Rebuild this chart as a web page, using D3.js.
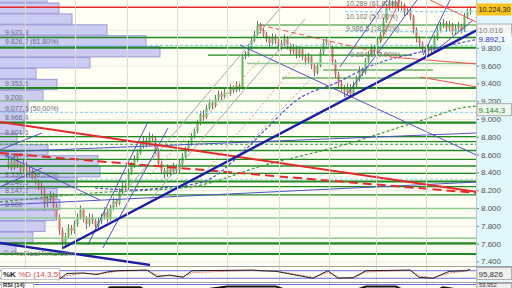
<!DOCTYPE html>
<html>
<head>
<meta charset="utf-8">
<script src="https://cdn.jsdelivr.net/npm/d3@7"></script>
<style>
  html, body { margin: 0; padding: 0; background: #fff; }
  svg { display: block; font-family: "Liberation Sans", Arial, sans-serif; }
</style>
</head>
<body>
<div id="chart"></div>
<script>
// daily candles, open = previous close
const firstOpen = 8480;
const closes = [
  8520,8450,8560,8480,8420,8500,8380,8420,8350,8300,
  8250,8200,8050,8100,8150,8020,7900,7750,7600,7680,
  7780,7740,7820,7900,7980,7880,7820,7900,7860,7800,
  7850,7900,7960,7880,8000,8080,8050,8180,8250,8220,
  8400,8480,8550,8620,8700,8760,8720,8800,8780,8650,
  8500,8420,8380,8450,8400,8470,8420,8500,8580,8650,
  8720,8800,8860,8950,9050,9020,9120,9180,9150,9230,
  9280,9250,9300,9280,9350,9320,9380,9340,9700,9720,
  9800,9880,9950,10050,10000,9950,9900,9850,9920,9880,
  9800,9850,9900,9820,9760,9800,9720,9780,9700,9650,
  9700,9600,9520,9600,9750,9850,9880,9800,9650,9500,
  9400,9350,9300,9360,9280,9380,9450,9550,9520,9650,
  9720,9800,9760,9880,9950,10100,10250,10300,10280,10320,
  10250,10280,10200,10220,10150,10000,9900,9850,9780,9750,
  9800,9760,9900,10000,10050,10080,10020,10060,9980,10020,
  10050,10000,10150,10200,10224
];
const highs = [
  8570,8550,8600,8590,8510,8540,8520,8460,8440,8390,
  8320,8290,8230,8140,8190,8170,8050,7930,7780,7720,
  7820,7810,7860,7940,8030,8000,7910,7940,7930,7880,
  7890,7940,8010,7990,8040,8120,8110,8220,8290,8280,
  8440,8520,8590,8660,8740,8800,8790,8850,8830,8800,
  8670,8530,8450,8490,8480,8510,8490,8540,8620,8690,
  8760,8840,8900,8990,9090,9100,9160,9220,9210,9270,
  9320,9310,9340,9330,9390,9380,9420,9400,9720,9760,
  9840,9920,9990,10100,10080,10030,9980,9930,9960,9950,
  9900,9890,9950,9930,9850,9840,9830,9820,9800,9730,
  9740,9720,9630,9640,9790,9890,9920,9900,9820,9670,
  9530,9430,9380,9400,9390,9420,9490,9590,9580,9690,
  9760,9840,9830,9920,9990,10140,10290,10340,10330,10360,
  10350,10320,10300,10260,10240,10170,10030,9930,9870,9810,
  9840,9830,9940,10040,10090,10120,10100,10100,10080,10060,
  10090,10070,10190,10240,10260
];
const lows = [
  8440,8420,8430,8450,8380,8400,8340,8350,8310,8260,
  8200,8140,7970,8010,8060,7980,7860,7700,7530,7570,
  7650,7700,7710,7790,7870,7840,7760,7790,7820,7750,
  7770,7820,7870,7840,7860,7970,8010,8030,8150,8180,
  8200,8370,8450,8520,8600,8670,8680,8700,8740,8610,
  8460,8380,8330,8350,8360,8380,8390,8400,8480,8560,
  8630,8700,8780,8840,8930,8980,9000,9100,9110,9130,
  9200,9210,9230,9240,9260,9290,9300,9310,9330,9670,
  9700,9780,9860,9930,9960,9910,9860,9810,9820,9840,
  9760,9770,9820,9780,9720,9730,9680,9690,9660,9610,
  9620,9560,9480,9500,9580,9720,9820,9760,9610,9460,
  9360,9310,9250,9270,9240,9260,9350,9420,9480,9500,
  9620,9700,9720,9740,9850,9930,10080,10220,10240,10250,
  10210,10220,10160,10170,10110,9960,9860,9810,9740,9700,
  9720,9720,9740,9880,9970,10020,9980,9990,9940,9950,
  9990,9960,9980,10120,10170
];

// volume profile (top bin first)
const profileTop = 10425;
const profileStep = 122.5;
const profileVolumes = [47,59,72,107,146,160,90,36,57,43,28,25,24,17,48,98,100,77,57,60,55,45,33,16];
const profilePrices = [9923.3, 9826.2, 9353.6, 9200, 9077.5, 8966.4, 8801.6, 8547.4, 8330.1, 8240.5, 8147.2, 8000];
const profileLabels = ["9.923,3", "9.826,2 (61,80%)", "9.353,6", "9.200", "9.077,5 (50,00%)", "8.966,4",
  "8.801,6", "8.547,4", "8.330,1 (38,20%)", "8.240,5", "8.147,2", "8.000"];

// horizontal levels
const strongLevels = [9800, 9348, 8958, 8298, 7602, 7484];
const supportLevels = [9915, 8801, 8745, 8646, 8547, 8472, 8390, 8240, 8147];
const lightLevels = [9202, 7995, 7888, 7660];
const dashedGreenLevels = [8716];
const fibLevels = [9826, 9075, 8323];
const topRedLevels = [10254];
// [fromIndex, toIndex, price]
const partialLevels = [[83.5, 156.5, 10055], [66.8, 134.8, 9718], [105.2, 141.8, 9550], [91.5, 156.5, 9460]];
const partialLightLevels = [[79.8, 156.5, 9623]];
const partialFibLevels = [[112.5, 156.5, 10205], [112.5, 156.5, 9980]];
const fibTexts = [["10.289 (61,80%)", 10289], ["10.102 (50,00%)", 10140], ["9.986,5 (38,20%)", 10010], ["- 9.684,0 (0,00%)", 9720]];

// trendlines [i1, p1, i2, p2]
const redThick = [[-2.5, 8966, 156.5, 8180]];
const redThickDashed = [[-2.5, 8618, 156.5, 8169]];
const redThin = [[140.8, 10336, 156.5, 10085], [127.5, 9696, 156.5, 9617], [137.5, 9471, 156.5, 9359], [124.2, 9853, 130.8, 10336]];
const redThinDashed = [[84.2, 10055, 127.5, 9718]];
const blueThick = [[18.5, 7551, 156.5, 9999], [-2.5, 7608, 47.5, 7361]];
const blueThin = [
  [77.5, 9831, 156.5, 8592], [112.5, 9247, 136.5, 10336], [110.8, 9584, 126.5, 10336],
  [138.5, 9718, 147.5, 10336], [141.8, 9741, 155.2, 10111], [26.8, 7585, 46.8, 8966],
  [31.8, 7551, 53.5, 8899], [-0.8, 8596, 30.8, 8090], [-2.5, 8236, 11.5, 8450],
  [-2.5, 8652, 11.5, 8843], [-2.5, 8629, 156.5, 8843], [-2.5, 8034, 156.5, 8292]
];
const grayLines = [[32.5, 7922, 91.5, 10269], [47.5, 8090, 99.2, 10123]];
const grayDashed = [[75.2, 8540, 100.8, 9438]];
const pinkDashed = [[47.5, 8371, 84.2, 9662], [60.8, 8203, 97.5, 9662]];

// moving averages read at a few points
const ma50Index = [29.2, 41.8, 54.2, 65.2, 77.5, 86.5, 96.5, 110.2, 121.8, 137.5, 156.2];
const ma50Values = [8225, 8203, 8236, 8293, 8596, 8899, 9213, 9415, 9606, 9752, 9892];
const ma200Index = [-2.5, 28.5, 60.8, 85.8, 110.8, 138.5, 153.2, 156.2];
const ma200Values = [8068, 8169, 8236, 8483, 8697, 8989, 9135, 9144];

// oscillators
const stochIndex = [16.8, 19.8, 25.2, 29.8, 33.2, 36.5, 46.5, 49.8, 54.2, 58.5, 61.5, 81.8, 84.2, 89.5, 101.8, 106.8, 110.2, 115.2, 119.5, 134.2, 137.2, 141.8, 147.2, 152.8, 154.2];
const stochK = [5, 58, 62, 50, 70, 80, 85, 33, 45, 28, 80, 85, 80, 75, 20, 80, 20, 25, 80, 85, 27, 20, 75, 80, 90];
const stochD = [8, 40, 60, 55, 62, 76, 84, 45, 40, 32, 65, 84, 82, 78, 28, 65, 30, 22, 70, 84, 40, 22, 62, 78, 85];
const rsiIndex = [17.5, 30.8, 34.2, 44.2, 50.8, 60.8, 73.2, 89.5, 97.5, 104.2, 119.5, 129.5, 137.5, 145.2, 154.2];
const rsiValues = [28, 55, 66, 66, 50, 60, 67, 67, 55, 45, 67, 67, 50, 66, 60];

const priceTicks = [7400, 7600, 7800, 8000, 8200, 8400, 8600, 8800, 9000, 9200, 9400, 9600, 9800];
const monthIndex = [5.8, 22.5, 39.8, 56.5, 73.2, 90.5, 107.2, 122.8, 139.5];

(function () {
  const WIDTH = 512, HEIGHT = 288;
  const PLOT_RIGHT = 476;
  const MAIN_BOTTOM = 266;
  const DARK_GREEN = "#1f8a1f";
  const LIGHT_GREEN = "#8fcb8f";
  const FIB_BLUE = "#8fd3f5";
  const NAVY = "#1c1ca8";
  const THIN_BLUE = "#5050c8";
  const RED = "#e8282a";

  const svg = d3.select("#chart").append("svg")
    .attr("width", WIDTH).attr("height", HEIGHT);

  const x = d3.scaleLinear().domain([-2.5, 156.5]).range([0, 477]);
  const y = d3.scaleLinear().domain([7349, 10336]).range([MAIN_BOTTOM, 0]);
  const stochY = d3.scaleLinear().domain([0, 100]).range([280.8, 268.2]);
  const rsiY = d3.scaleLinear().domain([0, 100]).range([333, 263.7]);
  const volX = d3.scaleLinear().domain([0, 160]).range([0, 160]);

  svg.append("defs").append("clipPath").attr("id", "plotClip")
    .append("rect").attr("x", 0).attr("y", 0).attr("width", PLOT_RIGHT).attr("height", MAIN_BOTTOM);

  // backgrounds
  svg.append("rect").attr("width", PLOT_RIGHT).attr("height", HEIGHT).attr("fill", "#fffff3");
  svg.append("rect").attr("x", PLOT_RIGHT).attr("width", WIDTH - PLOT_RIGHT).attr("height", HEIGHT).attr("fill", "#e1f7fc");

  const plot = svg.append("g").attr("clip-path", "url(#plotClip)");

  // grid
  plot.append("g").selectAll("line").data(priceTicks.concat([10000])).enter().append("line")
    .attr("x1", 0).attr("x2", PLOT_RIGHT)
    .attr("y1", d => y(d) + 0.5).attr("y2", d => y(d) + 0.5)
    .attr("stroke", "#e9e9dc").attr("stroke-width", 1);
  svg.append("g").selectAll("line").data(monthIndex).enter().append("line")
    .attr("x1", d => x(d) + 0.5).attr("x2", d => x(d) + 0.5)
    .attr("y1", 0).attr("y2", HEIGHT)
    .attr("stroke", "#dcdcd0").attr("stroke-width", 1);

  // volume profile
  plot.append("g").selectAll("rect").data(profileVolumes).enter().append("rect")
    .attr("x", -1)
    .attr("y", (d, i) => y(profileTop - i * profileStep))
    .attr("width", d => volX(d) + 1)
    .attr("height", y(profileTop - profileStep) - y(profileTop) - 0.6)
    .attr("fill", "#ccccf2").attr("stroke", "#9a9ad6").attr("stroke-width", 1);

  plot.append("g").selectAll("text").data(profileLabels).enter().append("text")
    .attr("x", 5).attr("y", (d, i) => y(profilePrices[i]) - 1.5)
    .attr("font-size", 7).attr("fill", "#6a6a80")
    .text(d => d);

  // candles
  const candles = closes.map((c, i) => ({
    i: i, open: i === 0 ? firstOpen : closes[i - 1], close: c, high: highs[i], low: lows[i]
  }));
  const candleG = plot.append("g");
  candleG.selectAll("line").data(candles).enter().append("line")
    .attr("x1", d => Math.round(x(d.i)) + 0.5).attr("x2", d => Math.round(x(d.i)) + 0.5)
    .attr("y1", d => y(d.high)).attr("y2", d => y(d.low))
    .attr("stroke", "#707070").attr("stroke-width", 1);
  candleG.selectAll("rect").data(candles).enter().append("rect")
    .attr("x", d => Math.round(x(d.i)) - 0.5)
    .attr("width", 2)
    .attr("y", d => y(Math.max(d.open, d.close)))
    .attr("height", d => Math.max(1, Math.abs(y(d.open) - y(d.close))))
    .attr("fill", d => d.close >= d.open ? "#5cb85c" : "#e06a6a");

  // horizontal levels
  const full = prices => prices.map(p => [-2.5, p, 156.5, p]);
  const part = rows => rows.map(r => [r[0], r[2], r[1], r[2]]);

  function drawSegments(segs, color, width, dash) {
    plot.append("g").selectAll("line").data(segs).enter().append("line")
      .attr("x1", d => x(d[0])).attr("y1", d => y(d[1]))
      .attr("x2", d => x(d[2])).attr("y2", d => y(d[3]))
      .attr("stroke", color).attr("stroke-width", width)
      .attr("stroke-dasharray", dash || null);
  }

  drawSegments(full(lightLevels), LIGHT_GREEN, 1.6);
  drawSegments(part(partialLightLevels), LIGHT_GREEN, 1.6);
  drawSegments(full(fibLevels), FIB_BLUE, 1.2, "3,2");
  drawSegments(part(partialFibLevels), FIB_BLUE, 1.2, "3,2");
  drawSegments(full(supportLevels), DARK_GREEN, 1.3);
  drawSegments(part(partialLevels), DARK_GREEN, 1.2);
  drawSegments(full(strongLevels), DARK_GREEN, 2.2);
  drawSegments(full(dashedGreenLevels), "#3c9a3c", 1.2, "3,2");
  drawSegments(full(topRedLevels), RED, 1.6);

  // moving averages
  const maLine = d3.line().curve(d3.curveMonotoneX).x(d => x(d[0])).y(d => y(d[1]));
  plot.append("path").datum(ma200Index.map((v, i) => [v, ma200Values[i]]))
    .attr("d", maLine).attr("fill", "none").attr("stroke", "#3f9a3f")
    .attr("stroke-width", 1.2).attr("stroke-dasharray", "3,2");
  plot.append("path").datum(ma50Index.map((v, i) => [v, ma50Values[i]]))
    .attr("d", maLine).attr("fill", "none").attr("stroke", "#4a4ae0")
    .attr("stroke-width", 1.2).attr("stroke-dasharray", "3,2");

  // trendlines
  drawSegments(grayLines, "#a8a8a8", 1);
  drawSegments(grayDashed, "#a8a8a8", 1, "3,2");
  drawSegments(pinkDashed, "#f09090", 1, "2,2");
  drawSegments(blueThin, THIN_BLUE, 1);
  drawSegments(redThin, "#ee5050", 1);
  drawSegments(redThinDashed, "#ee5050", 1, "5,3");
  drawSegments(redThickDashed, RED, 2, "9,5");
  drawSegments(redThick, RED, 2);
  drawSegments(blueThick, NAVY, 2.4);

  // fibonacci texts
  plot.append("g").selectAll("text").data(fibTexts).enter().append("text")
    .attr("x", 346).attr("y", d => y(d[1]) + 2)
    .attr("font-size", 7).attr("fill", "#707070")
    .text(d => d[0]);

  plot.append("text").attr("x", 3).attr("y", 256)
    .attr("font-size", 8).attr("fill", "#808080")
    .text("\u00a9 ProRealTime.com");

  // price axis
  const axisG = svg.append("g");
  axisG.selectAll("line").data(priceTicks).enter().append("line")
    .attr("x1", PLOT_RIGHT).attr("x2", PLOT_RIGHT + 3)
    .attr("y1", d => y(d) + 0.5).attr("y2", d => y(d) + 0.5)
    .attr("stroke", "#777");
  axisG.selectAll("text").data(priceTicks).enter().append("text")
    .attr("x", 481).attr("y", d => y(d) + 3)
    .attr("font-size", 8).attr("fill", "#505050")
    .text(d => d3.format(",")(d).replace(",", "."));
  svg.append("line").attr("x1", PLOT_RIGHT + 0.5).attr("x2", PLOT_RIGHT + 0.5)
    .attr("y1", 0).attr("y2", HEIGHT).attr("stroke", "#b8c8cc");

  function valueBox(label, yPos, fill, stroke, color, size) {
    svg.append("rect").attr("x", 477).attr("y", yPos - 6).attr("width", 34.5).attr("height", 12)
      .attr("fill", fill).attr("stroke", stroke || "none");
    svg.append("text").attr("x", 478.5).attr("y", yPos + 3)
      .attr("font-size", size || 8).attr("fill", color)
      .text(label);
  }
  valueBox("10.224,30", y(closes[closes.length - 1]) - 0.5, "#fbc31c", null, "#202020", 7.2);
  valueBox("10.016", y(10016) + 1.5, "#f3f3f3", "#b0b0b0", "#808080");
  valueBox("9.892,1", y(ma50Values[ma50Values.length - 1]) - 0.5, "#f4fbfd", null, "#2a2ad8");
  valueBox("9.144,3", y(ma200Values[ma200Values.length - 1]) + 3.5, "#eef6ee", "#b0b0b0", "#2a8a2a");

  // separators
  svg.append("line").attr("x1", 0).attr("x2", WIDTH).attr("y1", MAIN_BOTTOM + 0.5).attr("y2", MAIN_BOTTOM + 0.5)
    .attr("stroke", "#a0a0a0");
  svg.append("line").attr("x1", 0).attr("x2", WIDTH).attr("y1", 282.5).attr("y2", 282.5)
    .attr("stroke", "#a0a0a0");

  // stochastic panel
  const stoch = svg.append("g");
  stoch.selectAll("line.band").data([80, 20]).enter().append("line")
    .attr("x1", 0).attr("x2", PLOT_RIGHT)
    .attr("y1", d => stochY(d)).attr("y2", d => stochY(d))
    .attr("stroke", "#6a6ae6").attr("stroke-width", 1);
  const oscLine = (scale) => d3.line().x(d => x(d[0])).y(d => scale(d[1]));
  stoch.append("path").datum(stochIndex.map((v, i) => [v, stochD[i]]))
    .attr("d", oscLine(stochY)).attr("fill", "none").attr("stroke", "#f07070")
    .attr("stroke-width", 1).attr("stroke-dasharray", "2,1");
  stoch.append("path").datum(stochIndex.map((v, i) => [v, stochK[i]]))
    .attr("d", oscLine(stochY)).attr("fill", "none").attr("stroke", "#202020")
    .attr("stroke-width", 1);
  stoch.append("rect").attr("x", 1.5).attr("y", 268.5).attr("width", 58).attr("height", 11)
    .attr("fill", "#ffffff").attr("stroke", "#c8c8c8");
  const stochLabel = stoch.append("text").attr("x", 3).attr("y", 277).attr("font-size", 8);
  stochLabel.append("tspan").attr("fill", "#202020").attr("font-weight", "bold").text("%K ");
  stochLabel.append("tspan").attr("fill", "#e04848").text("%D (14,3,5)");
  valueBox("95,826", 273.5, "#f0f0f0", "#b0b0b0", "#303030");

  // rsi panel
  const rsi = svg.append("g");
  rsi.append("line").attr("x1", 0).attr("x2", PLOT_RIGHT).attr("y1", rsiY(70)).attr("y2", rsiY(70))
    .attr("stroke", "#6a6ae6");
  rsi.append("path").datum(rsiIndex.map((v, i) => [v, rsiValues[i]]))
    .attr("d", oscLine(rsiY)).attr("fill", "none").attr("stroke", "#151515").attr("stroke-width", 2);
  rsi.append("rect").attr("x", 1.5).attr("y", 283.5).attr("width", 32).attr("height", 6)
    .attr("fill", "#ffffff").attr("stroke", "#c8c8c8");
  rsi.append("text").attr("x", 3).attr("y", 287.3).attr("font-size", 5.8).attr("fill", "#202020")
    .attr("font-weight", "bold").text("RSI (14)");
  svg.append("rect").attr("x", 477).attr("y", 283.5).attr("width", 34.5).attr("height", 6)
    .attr("fill", "#f0f0f0").attr("stroke", "#b0b0b0");
  svg.append("text").attr("x", 479).attr("y", 287.3).attr("font-size", 5.8).attr("fill", "#303030")
    .text("59,952");
})();
</script>
</body>
</html>
